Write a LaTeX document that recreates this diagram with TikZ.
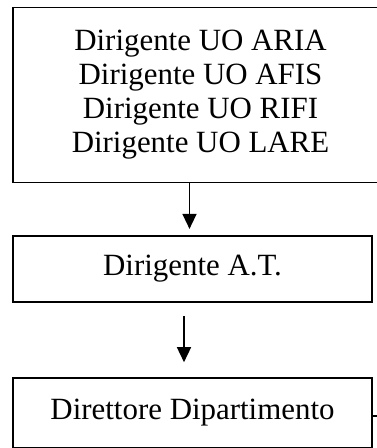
\documentclass[tikz,border=0pt]{standalone}
\usepackage{fontspec}
\setmainfont{Liberation Serif}
\usetikzlibrary{arrows.meta}
\begin{document}
\begin{tikzpicture}[x=1pt,y=-1pt,
  box/.style={draw=black,line width=1.6pt,rectangle,inner sep=0pt,align=center,
    font=\fontsize{30.9pt}{34pt}\selectfont},
  arr/.style={line width=1.5pt,-{Triangle[length=15pt,width=14pt]}}]
\useasboundingbox (0,0) rectangle (376,448);
\fill[white] (0,0) rectangle (376,448);
\node[box,minimum width=375pt,minimum height=175pt] (a) at (200.5,95)
  {Dirigente UO ARIA\\Dirigente UO AFIS\\Dirigente UO RIFI\\Dirigente UO LARE};
\node[box,minimum width=359pt,minimum height=66pt] (b) at (192.5,268.7) {Dirigente A.T.};
\node[box,minimum width=359pt,minimum height=70pt] (c) at (192.5,413) {Direttore Dipartimento};
\draw[arr] ([xshift=-11pt]a.south) -- ([xshift=-3pt,yshift=6pt]b.north);
\draw[arr] ([xshift=-8.5pt,yshift=-13.5pt]b.south) -- ([xshift=-8.5pt,yshift=15pt]c.north);
\coordinate (t) at (382,416);
\draw[line width=1.5pt] (c.east |- t) -- (t);
\end{tikzpicture}
\end{document}
